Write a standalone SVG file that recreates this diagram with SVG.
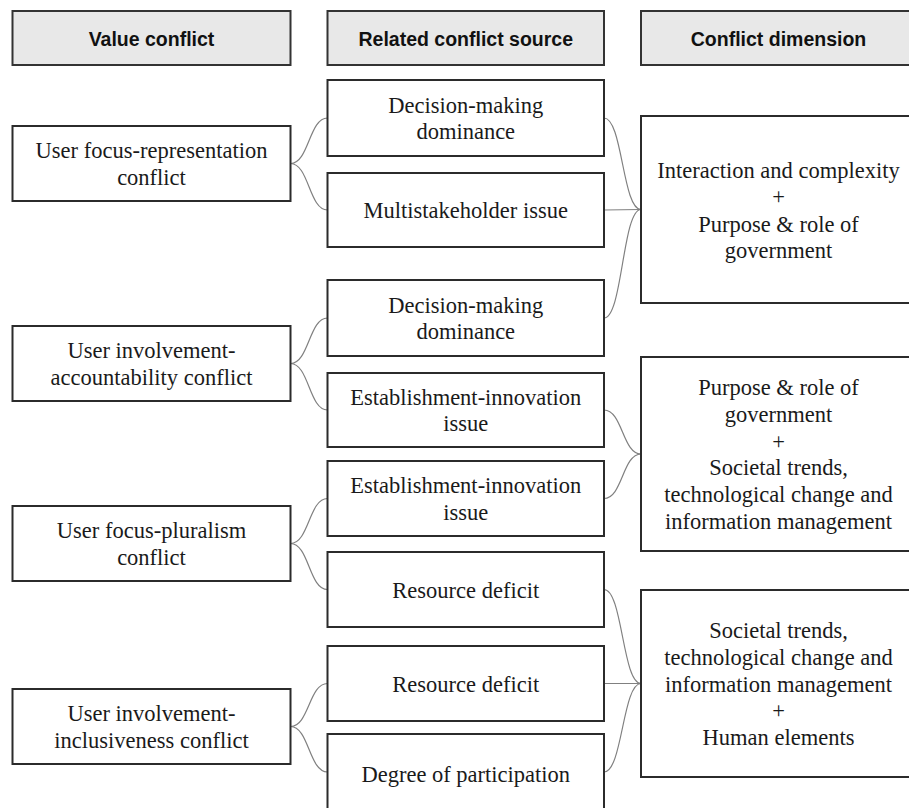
<svg xmlns="http://www.w3.org/2000/svg" width="909" height="808" viewBox="0 0 909 808">
<style>
  .hdr { fill: #e8e8e8; stroke: #333; stroke-width: 2; }
  .box { fill: #fff; stroke: #2b2b2b; stroke-width: 2; }
  .ht { font-family: "Liberation Sans", Arial, sans-serif; font-weight: bold; font-size: 19.5px; fill: #111; text-anchor: middle; }
  .t { font-family: "Liberation Serif", "Times New Roman", serif; font-size: 22.5px; fill: #1a1a1a; text-anchor: middle; }
  .c { fill: none; stroke: #808080; stroke-width: 1.2; }
</style>
<rect width="909" height="808" fill="#fff"/>

<g id="header-value"><rect class="hdr" x="12.5" y="11" width="278" height="54"/><text class="ht" x="151.5" y="45.5">Value conflict</text></g>
<g id="header-source"><rect class="hdr" x="327.5" y="11" width="276.5" height="54"/><text class="ht" x="465.75" y="45.5">Related conflict source</text></g>
<g id="header-dimension"><rect class="hdr" x="641" y="11" width="275" height="54"/><text class="ht" x="778.5" y="45.5">Conflict dimension</text></g>

<g id="connectors">
  <path class="c" d="M290.5,163.5 C309,163.5 309,118 327.5,118"/>
  <path class="c" d="M290.5,163.5 C309,163.5 309,210 327.5,210"/>
  <path class="c" d="M290.5,363.5 C309,363.5 309,318 327.5,318"/>
  <path class="c" d="M290.5,363.5 C309,363.5 309,410 327.5,410"/>
  <path class="c" d="M290.5,543.5 C309,543.5 309,498.5 327.5,498.5"/>
  <path class="c" d="M290.5,543.5 C309,543.5 309,589.5 327.5,589.5"/>
  <path class="c" d="M290.5,726.5 C309,726.5 309,683.5 327.5,683.5"/>
  <path class="c" d="M290.5,726.5 C309,726.5 309,772 327.5,772"/>

  <path class="c" d="M604,118 C622.5,118 622.5,209.5 641,209.5"/>
  <path class="c" d="M604,210 L641,209.5"/>
  <path class="c" d="M604,318 C622.5,318 622.5,209.5 641,209.5"/>
  <path class="c" d="M604,410 C622.5,410 622.5,454 641,454"/>
  <path class="c" d="M604,498.5 C622.5,498.5 622.5,454 641,454"/>
  <path class="c" d="M604,589.5 C622.5,589.5 622.5,683.5 641,683.5"/>
  <path class="c" d="M604,683.5 L641,683.5"/>
  <path class="c" d="M604,772 C622.5,772 622.5,683.5 641,683.5"/>
</g>

<g id="vc-representation"><rect class="box" x="12.5" y="126" width="278" height="75"/><text class="t" x="151.5" y="158.2">User focus-representation</text><text class="t" x="151.5" y="184.8">conflict</text></g>
<g id="vc-accountability"><rect class="box" x="12.5" y="326" width="278" height="75"/><text class="t" x="151.5" y="358.2">User involvement-</text><text class="t" x="151.5" y="384.8">accountability conflict</text></g>
<g id="vc-pluralism"><rect class="box" x="12.5" y="506" width="278" height="75"/><text class="t" x="151.5" y="538.2">User focus-pluralism</text><text class="t" x="151.5" y="564.8">conflict</text></g>
<g id="vc-inclusiveness"><rect class="box" x="12.5" y="689" width="278" height="75"/><text class="t" x="151.5" y="721.2">User involvement-</text><text class="t" x="151.5" y="747.8">inclusiveness conflict</text></g>

<g id="src-decision-1"><rect class="box" x="327.5" y="80" width="276.5" height="76"/><text class="t" x="465.75" y="112.7">Decision-making</text><text class="t" x="465.75" y="139.3">dominance</text></g>
<g id="src-multistakeholder"><rect class="box" x="327.5" y="173" width="276.5" height="74"/><text class="t" x="465.75" y="218">Multistakeholder issue</text></g>
<g id="src-decision-2"><rect class="box" x="327.5" y="280" width="276.5" height="76"/><text class="t" x="465.75" y="312.7">Decision-making</text><text class="t" x="465.75" y="339.3">dominance</text></g>
<g id="src-establishment-1"><rect class="box" x="327.5" y="373" width="276.5" height="74"/><text class="t" x="465.75" y="404.7">Establishment-innovation</text><text class="t" x="465.75" y="431.3">issue</text></g>
<g id="src-establishment-2"><rect class="box" x="327.5" y="461" width="276.5" height="75"/><text class="t" x="465.75" y="493.2">Establishment-innovation</text><text class="t" x="465.75" y="519.8">issue</text></g>
<g id="src-resource-1"><rect class="box" x="327.5" y="552" width="276.5" height="75"/><text class="t" x="465.75" y="597.5">Resource deficit</text></g>
<g id="src-resource-2"><rect class="box" x="327.5" y="646" width="276.5" height="75"/><text class="t" x="465.75" y="691.5">Resource deficit</text></g>
<g id="src-participation"><rect class="box" x="327.5" y="734" width="276.5" height="80"/><text class="t" x="465.75" y="781.5">Degree of participation</text></g>

<g id="dim-1"><rect class="box" x="641" y="116" width="275" height="187"/><text class="t" x="778.5" y="177.5">Interaction and complexity</text><text class="t" x="778.5" y="204.2">+</text><text class="t" x="778.5" y="231.5">Purpose &amp; role of</text><text class="t" x="778.5" y="257.5">government</text></g>
<g id="dim-2"><rect class="box" x="641" y="357" width="275" height="194"/><text class="t" x="778.5" y="395.3">Purpose &amp; role of</text><text class="t" x="778.5" y="422">government</text><text class="t" x="778.5" y="448.7">+</text><text class="t" x="778.5" y="475.3">Societal trends,</text><text class="t" x="778.5" y="502">technological change and</text><text class="t" x="778.5" y="528.7">information management</text></g>
<g id="dim-3"><rect class="box" x="641" y="590" width="275" height="187"/><text class="t" x="778.5" y="638.1">Societal trends,</text><text class="t" x="778.5" y="664.8">technological change and</text><text class="t" x="778.5" y="691.5">information management</text><text class="t" x="778.5" y="718.2">+</text><text class="t" x="778.5" y="744.8">Human elements</text></g>
</svg>
